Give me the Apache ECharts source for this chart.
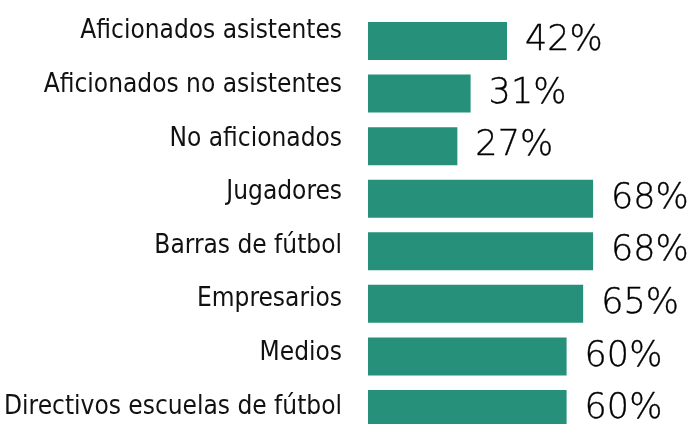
<!DOCTYPE html>
<html>
<head>
<meta charset="utf-8">
<script src="https://cdn.jsdelivr.net/npm/echarts@6/dist/echarts.min.js"></script>
<style>
  html, body { margin: 0; padding: 0; background: #fff; }
  #chart_grupos { width: 696px; height: 424px; }
</style>
</head>
<body>
<div id="chart_grupos"></div>
<script>
// grupos encuestados y porcentaje
var categorias = [
    'Aficionados asistentes',
    'Aficionados no asistentes',
    'No aficionados',
    'Jugadores',
    'Barras de fútbol',
    'Empresarios',
    'Medios',
    'Directivos escuelas de fútbol'
];
var porcentajes = [42, 31, 27, 68, 68, 65, 60, 60];

var chart_grupos = echarts.init(document.getElementById('chart_grupos'));

var chart_grupos_option = {
    backgroundColor: '#ffffff',
    animation: false,
    grid: [
        // barras
        { left: 368, right: -3, top: 14.7, bottom: -11.3, outerBoundsMode: 'none' },
        // etiquetas de categoria (espaciado un poco distinto)
        { left: 368, right: -3, top: 4.6, bottom: -9.9, outerBoundsMode: 'none' }
    ],
    xAxis: [
        { gridIndex: 0, type: 'value', min: 0, max: 100, show: false },
        { gridIndex: 1, type: 'value', min: 0, max: 100, show: false }
    ],
    yAxis: [
        {
            gridIndex: 0,
            type: 'category',
            inverse: true,
            data: categorias,
            axisLine: { show: false },
            axisTick: { show: false },
            axisLabel: { show: false }
        },
        {
            gridIndex: 1,
            type: 'category',
            inverse: true,
            data: categorias,
            axisLine: { show: false },
            axisTick: { show: false },
            axisLabel: {
                margin: 26,
                color: '#111',
                fontSize: 26,
                fontFamily: '"DejaVu Sans Condensed", "Liberation Sans", sans-serif'
            }
        }
    ],
    series: [
        {
            type: 'bar',
            xAxisIndex: 0,
            yAxisIndex: 0,
            data: porcentajes,
            barWidth: 38,
            itemStyle: { color: '#26907a' },
            label: {
                show: true,
                position: 'right',
                distance: 18,
                formatter: '{c}%',
                color: '#000',
                fontSize: 35,
                fontWeight: 200,
                fontFamily: '"DejaVu Sans", sans-serif',
                textBorderColor: '#000',
                textBorderWidth: 0.35
            }
        }
    ]
};
chart_grupos.setOption(chart_grupos_option);
</script>
</body>
</html>
